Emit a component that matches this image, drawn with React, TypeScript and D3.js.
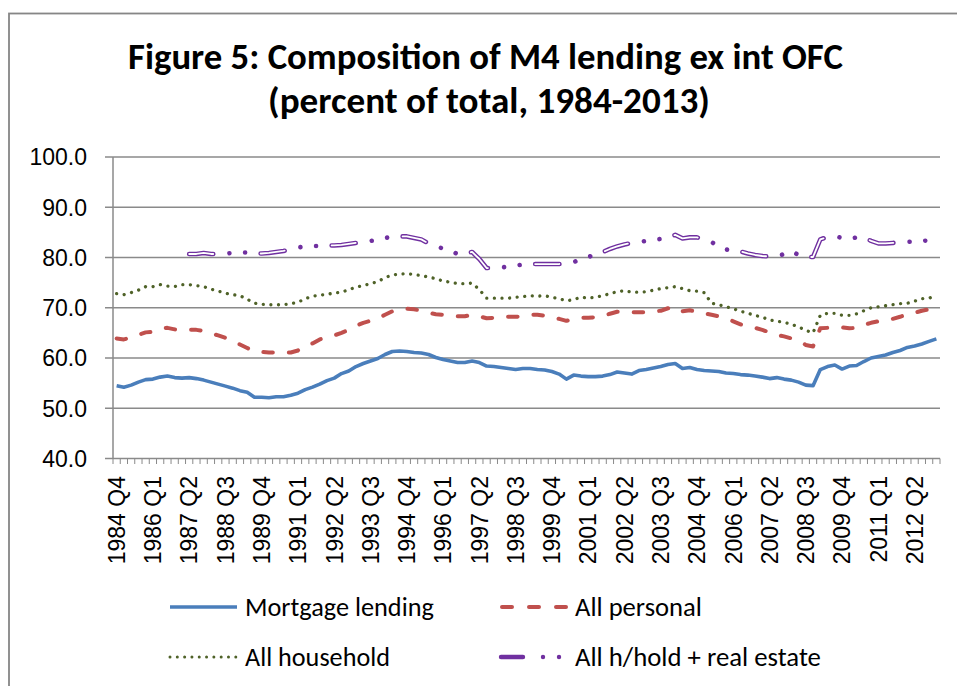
import React, { useEffect, useRef } from 'react';
import * as d3 from 'd3';

const W = 957;
const H = 686;

// quarterly categories, 1984 Q4 .. 2013 Q1
const firstYear = 1984;
const firstQuarter = 4;
const nQuarters = 114;
const quarters: string[] = [];
for (let k = 0; k < nQuarters; k++) {
  const q = firstQuarter - 1 + k;
  quarters.push(`${firstYear + Math.floor(q / 4)} Q${(q % 4) + 1}`);
}

// every fifth category is labelled
const tickLabels = [
  '1984 Q4', '1986 Q1', '1987 Q2', '1988 Q3', '1989 Q4', '1991 Q1', '1992 Q2', '1993 Q3',
  '1994 Q4', '1996 Q1', '1997 Q2', '1998 Q3', '1999 Q4', '2001 Q1', '2002 Q2', '2003 Q3',
  '2004 Q4', '2006 Q1', '2007 Q2', '2008 Q3', '2009 Q4', '2011 Q1', '2012 Q2',
];

const yTicks = [40, 50, 60, 70, 80, 90, 100];

const mortgage = [
  54.5, 54.2, 54.6, 55.2, 55.7, 55.8, 56.2, 56.4, 56.1, 56.0,
  56.1, 55.9, 55.6, 55.2, 54.8, 54.4, 54.0, 53.5, 53.2, 52.2,
  52.2, 52.1, 52.3, 52.3, 52.6, 53.0, 53.7, 54.2, 54.8, 55.5,
  56.0, 56.9, 57.4, 58.3, 58.9, 59.4, 59.9, 60.7, 61.3, 61.4,
  61.3, 61.1, 61.0, 60.7, 60.1, 59.7, 59.4, 59.1, 59.1, 59.4,
  59.1, 58.4, 58.3, 58.1, 57.9, 57.7, 57.9, 57.9, 57.7, 57.6,
  57.3, 56.8, 55.8, 56.6, 56.4, 56.3, 56.3, 56.4, 56.7, 57.2,
  57.0, 56.8, 57.5, 57.7, 58.0, 58.3, 58.7, 58.9, 57.9, 58.1,
  57.7, 57.5, 57.4, 57.3, 57.0, 56.9, 56.7, 56.6, 56.4, 56.2,
  55.9, 56.1, 55.8, 55.6, 55.2, 54.6, 54.5, 57.7, 58.3, 58.6,
  57.8, 58.4, 58.5, 59.3, 60.0, 60.3, 60.6, 61.1, 61.5, 62.1,
  62.4, 62.8, 63.3, 63.8,
];

const personal = [
  63.9, 63.7, 64.1, 64.6, 65.1, 65.2, 65.8, 66.0, 65.7, 65.6,
  65.6, 65.6, 65.4, 64.9, 64.5, 64.0, 63.4, 62.7, 62.0, 61.3,
  61.2, 61.1, 61.1, 61.1, 61.1, 61.5, 62.4, 62.9, 63.7, 64.2,
  64.5, 65.0, 65.6, 66.4, 67.0, 67.4, 67.9, 68.6, 69.3, 69.7,
  69.8, 69.7, 69.4, 69.0, 68.7, 68.6, 68.4, 68.3, 68.3, 68.6,
  68.3, 67.9, 68.0, 68.2, 68.2, 68.2, 68.3, 68.6, 68.6, 68.4,
  68.1, 67.8, 67.4, 67.8, 68.0, 68.0, 68.1, 68.4, 68.8, 69.2,
  69.2, 69.1, 69.1, 69.1, 69.3, 69.4, 69.9, 70.2, 69.3, 69.5,
  69.2, 68.9, 68.6, 68.3, 67.9, 67.3, 66.7, 66.3, 66.0, 65.6,
  65.1, 64.6, 64.3, 63.9, 63.4, 62.6, 62.3, 65.9, 66.0, 66.1,
  66.1, 65.9, 66.0, 66.6, 67.0, 67.3, 67.6, 67.8, 68.2, 68.7,
  69.0, 69.4, 69.7, 70.3,
];

const household = [
  72.8, 72.6, 73.0, 73.5, 74.2, 74.2, 74.6, 74.3, 74.2, 74.6,
  74.6, 74.4, 74.2, 73.7, 73.3, 72.9, 72.6, 72.4, 71.7, 70.9,
  70.7, 70.6, 70.6, 70.6, 70.8, 71.1, 71.8, 72.3, 72.5, 72.7,
  72.9, 73.1, 73.6, 74.1, 74.4, 74.8, 75.2, 76.0, 76.5, 76.7,
  76.8, 76.6, 76.4, 76.1, 75.8, 75.3, 75.1, 74.8, 74.8, 74.9,
  73.6, 71.9, 71.9, 71.9, 71.9, 72.1, 72.2, 72.4, 72.3, 72.4,
  72.1, 71.8, 71.4, 71.6, 72.1, 71.9, 72.1, 72.4, 72.8, 73.2,
  73.4, 73.1, 73.1, 73.2, 73.5, 73.8, 74.0, 74.2, 73.8, 73.4,
  73.3, 73.0, 70.9, 70.6, 70.2, 69.8, 69.3, 68.9, 68.5, 68.1,
  67.6, 67.3, 67.1, 66.7, 66.2, 65.5, 65.0, 68.5, 68.9, 68.9,
  68.5, 68.5, 68.8, 69.4, 70.0, 70.2, 70.4, 70.6, 70.8, 70.9,
  71.3, 71.8, 71.9, 72.5,
];

// no data before 1987 Q2
const realEstate: (number | null)[] = [
  null, null, null, null, null, null, null, null, null, null,
  80.7, 80.7, 80.9, 80.7, 80.7, 80.8, 80.9, 81.0, 81.0, 80.8,
  80.8, 80.9, 81.1, 81.3, 81.6, 82.0, 82.2, 82.3, 82.3, 82.4,
  82.4, 82.5, 82.7, 82.9, 83.1, 83.3, 83.5, 83.9, 84.1, 84.2,
  84.2, 83.9, 83.6, 82.8, 82.2, 81.8, 81.3, 80.7, 80.8, 81.1,
  79.7, 77.9, 77.9, 78.0, 78.2, 78.4, 78.6, 78.7, 78.7, 78.7,
  78.7, 78.7, 78.9, 79.1, 79.6, 80.1, 80.6, 81.1, 81.7, 82.2,
  82.6, 82.9, 83.1, 83.3, 83.5, 83.7, 84.0, 84.5, 83.8, 84.0,
  84.0, 83.6, 83.1, 82.1, 81.6, 81.4, 81.2, 80.8, 80.5, 80.3,
  80.2, 80.2, 80.7, 81.3, 80.5, 80.1, 80.1, 83.6, 84.1, 84.2,
  83.9, 83.7, 84.0, 84.0, 83.3, 82.8, 82.8, 82.9, 83.0, 83.1,
  83.2, 83.3, 83.4, 83.6,
];

const BLUE = '#4a7ebb';
const RED = '#c0504d';
const GREEN = '#4f6228';
const PURPLE = '#7030a0';
const GRID = '#8a8a8a';
const AXIS_FONT = "'Liberation Sans', Arial, sans-serif";
const TEXT_FONT = "Carlito, Calibri, Lato, sans-serif";

const App = () => {
  const svgRef = useRef<SVGSVGElement>(null);

  useEffect(() => {
    if (!svgRef.current) return;
    const svg = d3.select(svgRef.current);
    svg.selectAll('*').remove();

    const left = 113, right = 940, top = 157, bottom = 458.5;

    const x = d3.scaleBand<string>().domain(quarters).range([left, right]).padding(0);
    const bw = x.bandwidth();
    const cx = (i: number) => (x(quarters[i]) as number) + bw / 2;
    const y = d3.scaleLinear().domain([40, 100]).range([bottom, top]);

    // outer frame (only top and left visible)
    svg.append('rect')
      .attr('x', 9).attr('y', 13.5).attr('width', 1000).attr('height', 1000)
      .attr('fill', '#fff').attr('stroke', '#868686').attr('stroke-width', 1.8);

    // fits a text's font size so it spans the given width
    const fit = (sel: d3.Selection<SVGTextElement, unknown, null, undefined>, width: number) => {
      const node = sel.node();
      if (!node) return;
      const fs = parseFloat(sel.attr('font-size'));
      const len = node.getComputedTextLength();
      if (len > 0) sel.attr('font-size', (fs * width) / len);
    };

    // title
    const t1 = svg.append('text')
      .attr('x', 485.5).attr('y', 69).attr('text-anchor', 'middle')
      .attr('font-family', TEXT_FONT).attr('font-weight', 700)
      .attr('font-size', 33).attr('fill', '#000')
      .text('Figure 5: Composition of M4 lending ex int OFC');
    fit(t1, 715);
    const t2 = svg.append('text')
      .attr('x', 489).attr('y', 113).attr('text-anchor', 'middle')
      .attr('font-family', TEXT_FONT).attr('font-weight', 700)
      .attr('font-size', 33).attr('fill', '#000')
      .text('(percent of total, 1984-2013)');
    fit(t2, 442);

    // gridlines + y ticks
    svg.append('g').selectAll('line')
      .data(yTicks)
      .enter().append('line')
      .attr('x1', left - 8).attr('x2', right)
      .attr('y1', d => y(d)).attr('y2', d => y(d))
      .attr('stroke', GRID).attr('stroke-width', 1.5);

    svg.append('line')
      .attr('x1', left).attr('x2', left).attr('y1', top).attr('y2', bottom)
      .attr('stroke', GRID).attr('stroke-width', 1.5);

    svg.append('g').selectAll('text')
      .data(yTicks)
      .enter().append('text')
      .attr('x', 87).attr('y', d => y(d)).attr('dy', '0.36em')
      .attr('text-anchor', 'end')
      .attr('font-family', AXIS_FONT).attr('font-size', 23)
      .attr('fill', '#000')
      .text(d => d.toFixed(1));

    // x tick marks between categories
    const bounds = d3.range(nQuarters + 1).map(k => left + k * bw);
    svg.append('g').selectAll('line')
      .data(bounds)
      .enter().append('line')
      .attr('x1', d => d).attr('x2', d => d)
      .attr('y1', bottom).attr('y2', bottom + 5.5)
      .attr('stroke', GRID).attr('stroke-width', 1);

    // x labels
    svg.append('g').selectAll('text')
      .data(tickLabels)
      .enter().append('text')
      .attr('transform', d => `translate(${cx(quarters.indexOf(d))},476) rotate(-90)`)
      .attr('dy', '0.36em')
      .attr('text-anchor', 'end')
      .attr('font-family', AXIS_FONT).attr('font-size', 23)
      .attr('fill', '#000')
      .text(d => d);

    const line = d3.line<number | null>()
      .defined(d => d !== null)
      .x((d, i) => cx(i))
      .y(d => y(d as number));

    const g = svg.append('g').attr('fill', 'none')
      .attr('stroke-linejoin', 'round');

    // mortgage: solid blue
    g.append('path').attr('d', line(mortgage))
      .attr('stroke', BLUE).attr('stroke-width', 3.6);

    // all personal: red dashes
    g.append('path').attr('d', line(personal))
      .attr('stroke', RED).attr('stroke-width', 4)
      .attr('stroke-linecap', 'round').attr('stroke-dasharray', '9.5,16');

    // all household: green dots
    g.append('path').attr('d', line(household))
      .attr('stroke', GREEN).attr('stroke-width', 3.3)
      .attr('stroke-linecap', 'round').attr('stroke-dasharray', '0.01,7.6');

    // all h/hold + real estate: hollow dash, dot, dot
    g.append('path').attr('d', line(realEstate))
      .attr('stroke', PURPLE).attr('stroke-width', 4.6)
      .attr('stroke-linecap', 'round').attr('stroke-dasharray', '24.2,16.2,0.01,15.7,0.01,15.59');
    g.append('path').attr('d', line(realEstate))
      .attr('stroke', '#fff').attr('stroke-width', 1.8)
      .attr('stroke-linecap', 'round').attr('stroke-dasharray', '24.2,47.5');

    // legend
    const legend = [
      { name: 'Mortgage lending', tx: 245, y: 607, w: 189 },
      { name: 'All personal', tx: 575, y: 607, w: 127 },
      { name: 'All household', tx: 245, y: 657, w: 145 },
      { name: 'All h/hold + real estate', tx: 575, y: 657, w: 246 },
    ];
    const lg = svg.append('g');
    lg.append('line').attr('x1', 170).attr('x2', 237).attr('y1', 607).attr('y2', 607)
      .attr('stroke', BLUE).attr('stroke-width', 3.6);
    lg.append('line').attr('x1', 502).attr('x2', 566).attr('y1', 607).attr('y2', 607)
      .attr('stroke', RED).attr('stroke-width', 4).attr('stroke-linecap', 'round')
      .attr('stroke-dasharray', '10,17');
    lg.append('line').attr('x1', 170).attr('x2', 236).attr('y1', 657).attr('y2', 657)
      .attr('stroke', GREEN).attr('stroke-width', 3).attr('stroke-linecap', 'round')
      .attr('stroke-dasharray', '0.01,7.3');
    lg.append('line').attr('x1', 501).attr('x2', 560).attr('y1', 657).attr('y2', 657)
      .attr('stroke', PURPLE).attr('stroke-width', 4.4).attr('stroke-linecap', 'round')
      .attr('stroke-dasharray', '22,20,0.01,16,0.01,40');

    legend.forEach(l => {
      const t = lg.append('text')
        .attr('x', l.tx).attr('y', l.y + 8.5)
        .attr('font-family', TEXT_FONT)
        .attr('font-size', 25).attr('fill', '#000')
        .text(l.name);
      fit(t, l.w);
    });
  }, []);

  return (
    <svg
      ref={svgRef}
      width={W}
      height={H}
      style={{ position: 'absolute', left: 0, top: 0, background: '#fff' }}
    />
  );
};

export default App;
